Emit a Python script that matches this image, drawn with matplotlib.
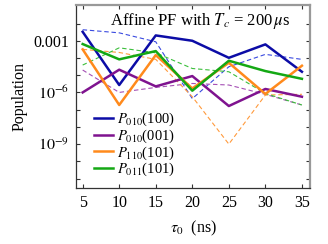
import matplotlib
matplotlib.use("Agg")
import matplotlib.pyplot as plt
import numpy as np

plt.rcParams['font.family'] = ['Liberation Serif', 'DejaVu Serif']
plt.rcParams['mathtext.fontset'] = 'stix'

tau0 = [5, 10, 15, 20, 25, 30, 35]

# log10 of populations
labels = [r'$P_{010}$(100)', r'$P_{010}$(001)', r'$P_{110}$(101)', r'$P_{011}$(101)']
solid_log = [
    [-2.48, -5.57, -2.69, -3.00, -3.99, -3.21, -4.80],
    [-6.00, -4.68, -5.65, -5.05, -6.79, -5.80, -6.25],
    [-3.50, -6.73, -3.83, -5.77, -4.28, -6.09, -4.45],
    [-3.19, -4.08, -3.60, -5.90, -4.16, -4.76, -5.21],
]
dashed_log = [
    [-2.36, -2.54, -3.06, -6.36, -4.51, -3.79, -4.08],
    [-4.70, -6.00, -5.71, -5.48, -5.57, -6.11, -6.73],
    [-3.50, -3.68, -4.08, -6.25, -9.00, -6.15, -6.11],
    [-4.41, -3.41, -3.70, -4.61, -4.80, -6.06, -6.73],
]
colors = ['#0c0ca6', '#7f138f', '#ff8a1c', '#14a814']
dash_colors = ['#3a4ae0', '#a54fb5', '#ff9a3c', '#3cbf3c']

fig = plt.figure(figsize=(3.28, 2.44), dpi=100)
ax = fig.add_axes([0.232, 0.231, 0.713, 0.748])

for i in range(4):
    ax.plot(tau0, 10 ** np.array(dashed_log[i]), color=dash_colors[i], lw=0.8,
            dashes=(4, 2.5))
for i in range(4):
    ax.plot(tau0, 10 ** np.array(solid_log[i]), color=colors[i], lw=1.8,
            label=labels[i])

ax.set_yscale('log')
ax.set_xlim(4.1, 36.1)
ax.set_ylim(10 ** -11.53, 10 ** -0.93)
ax.set_xticks(tau0)
ax.set_yticks([1e-2, 1e-3, 1e-4, 1e-5, 1e-6, 1e-7, 1e-8, 1e-9, 1e-10, 1e-11])
ax.set_yticklabels(['', '0.001', '', '', r'$10^{-6}$', '', '', r'$10^{-9}$', '', ''])
ax.minorticks_off()
ax.tick_params(direction='in', length=3, width=0.8, color='#333333',
               labelsize=11.5, top=True, right=True, pad=5)

for s in ['left', 'bottom']:
    ax.spines[s].set_color('#333333')
    ax.spines[s].set_linewidth(0.9)
for s in ['top', 'right']:
    ax.spines[s].set_color('#999999')
    ax.spines[s].set_linewidth(1.6)

ax.set_xlabel(r'$\tau_0$  (ns)', fontsize=11.5, labelpad=6)
ax.set_ylabel('Population', fontsize=11.5, labelpad=4)
ax.text(0.53, 0.912, r'Affine PF with $T_c$ = 200$\,\mu$s', transform=ax.transAxes,
        ha='center', va='center', fontsize=12)

ax.legend(loc='lower left', bbox_to_anchor=(0.05, 0.02), frameon=False, fontsize=10.5,
          handlelength=1.3, handletextpad=0.3, labelspacing=-0.05, borderpad=0.2,
          borderaxespad=0.2)

fig.savefig('out.png', dpi=100)
